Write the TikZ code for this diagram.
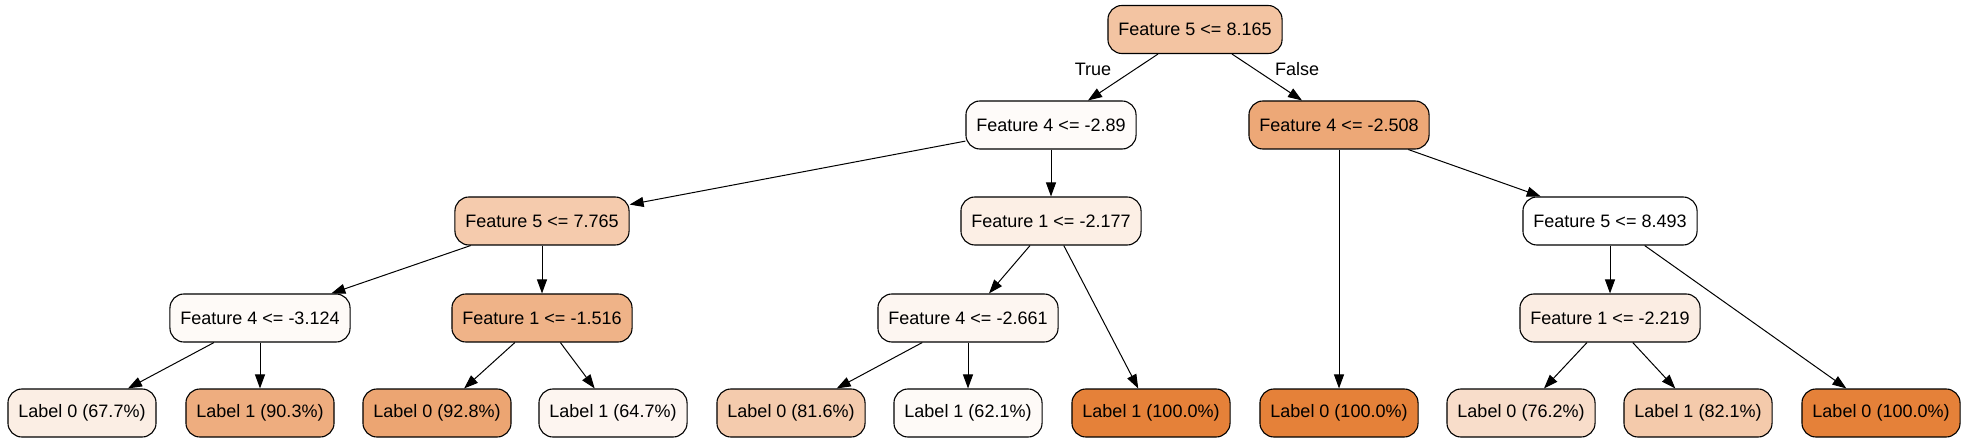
\documentclass[tikz,border=0pt]{standalone}
\usepackage{fontspec}
\setmainfont{Liberation Sans}
\usetikzlibrary{arrows.meta}

\definecolor{c100}{HTML}{E58139}
\definecolor{cRoot}{HTML}{F3C4A2}
\definecolor{cSplitL}{HTML}{FEFBF9}
\definecolor{cSplitR}{HTML}{EDA877}
\definecolor{cF5a}{HTML}{F5CBAD}
\definecolor{cF1a}{HTML}{FCEFE5}
\definecolor{cF5b}{HTML}{FFFFFF}
\definecolor{cF4c}{HTML}{FEFAF7}
\definecolor{cF1b}{HTML}{EFB388}
\definecolor{cF4d}{HTML}{FDF6F1}
\definecolor{cF1c}{HTML}{FBEDE3}

\begin{document}
\begin{tikzpicture}[x=1pt,y=-1pt]
    \tikzstyle{box}=[draw,rounded corners=14pt,line width=1.1pt,minimum height=48pt,inner xsep=10.5pt,font=\fontsize{18}{20}\selectfont]
    \tikzstyle{edge}=[line width=1pt,-{Triangle[length=14pt,width=10pt]}]
    \useasboundingbox (0,0) rectangle (1969,443);

    % splits
    \node at (1195,29.5) (root) [box, fill=cRoot] {Feature 5 <= 8.165};
    \node at (1051,125) (L) [box, fill=cSplitL] {Feature 4 <= -2.89};
    \node at (1339,125) (R) [box, fill=cSplitR] {Feature 4 <= -2.508};
    \node at (542,221) (LL) [box, fill=cF5a] {Feature 5 <= 7.765};
    \node at (1051,221) (LR) [box, fill=cF1a] {Feature 1 <= -2.177};
    \node at (1610,221) (RR) [box, fill=cF5b] {Feature 5 <= 8.493};
    \node at (260,318) (LLL) [box, fill=cF4c] {Feature 4 <= -3.124};
    \node at (542,318) (LLR) [box, fill=cF1b] {Feature 1 <= -1.516};
    \node at (968,318) (LRL) [box, fill=cF4d] {Feature 4 <= -2.661};
    \node at (1610,318) (RRL) [box, fill=cF1c] {Feature 1 <= -2.219};

    % leaves
    \node at (82,413) (leafA) [box, fill={rgb,255:red,251;green,238;blue,228}] {Label 0 (67.7\%)};
    \node at (260,413) (leafB) [box, fill={rgb,255:red,238;green,173;blue,127}] {Label 1 (90.3\%)};
    \node at (437,413) (leafC) [box, fill={rgb,255:red,236;green,165;blue,114}] {Label 0 (92.8\%)};
    \node at (613,413) (leafD) [box, fill={rgb,255:red,253;green,245;blue,240}] {Label 1 (64.7\%)};
    \node at (791,413) (leafE) [box, fill={rgb,255:red,244;green,203;blue,173}] {Label 0 (81.6\%)};
    \node at (968,413) (leafF) [box, fill={rgb,255:red,254;green,250;blue,247}] {Label 1 (62.1\%)};
    \node at (1151,413) (leafG) [box, fill=c100] {Label 1 (100.0\%)};
    \node at (1339,413) (leafH) [box, fill=c100] {Label 0 (100.0\%)};
    \node at (1521,413) (leafI) [box, fill={rgb,255:red,248;green,221;blue,202}] {Label 0 (76.2\%)};
    \node at (1698,413) (leafJ) [box, fill={rgb,255:red,244;green,202;blue,171}] {Label 1 (82.1\%)};
    \node at (1881,413) (leafK) [box, fill=c100] {Label 0 (100.0\%)};

    \draw[edge] (root) -- (L);
    \draw[edge] (root) -- (R);
    \node at (1093,69) (true) [font=\fontsize{18}{20}\selectfont] {True};
    \node at (1297,69) (false) [font=\fontsize{18}{20}\selectfont] {False};

    \draw[edge] (L) -- (LL);
    \draw[edge] (L) -- (LR);
    \draw[edge] (R) -- (leafH);
    \draw[edge] (R) -- (RR);
    \draw[edge] (LL) -- (LLL);
    \draw[edge] (LL) -- (LLR);
    \draw[edge] (LR) -- (LRL);
    \draw[edge] (LR) -- (leafG);
    \draw[edge] (RR) -- (RRL);
    \draw[edge] (RR) -- (leafK);
    \draw[edge] (LLL) -- (leafA);
    \draw[edge] (LLL) -- (leafB);
    \draw[edge] (LLR) -- (leafC);
    \draw[edge] (LLR) -- (leafD);
    \draw[edge] (LRL) -- (leafE);
    \draw[edge] (LRL) -- (leafF);
    \draw[edge] (RRL) -- (leafI);
    \draw[edge] (RRL) -- (leafJ);

\end{tikzpicture}
\end{document}
